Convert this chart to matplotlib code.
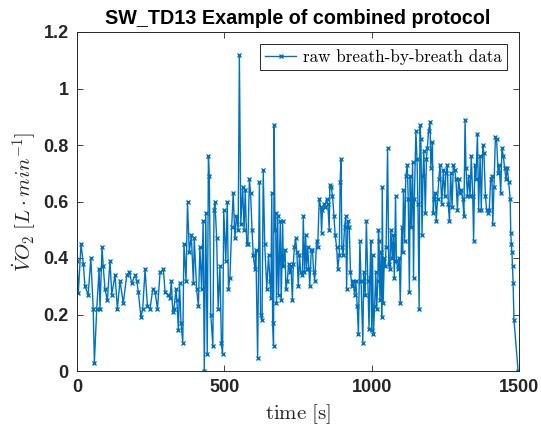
import matplotlib
matplotlib.use("Agg")
import matplotlib.pyplot as plt

time_s = [0, 4.5, 13.6, 21.5, 27, 38, 47, 55, 59, 67, 75, 78, 85, 89, 95, 103, 112, 118, 129, 137,
          146, 157, 169, 178, 186, 197, 203, 208, 217, 223, 231, 239, 248, 257, 265, 273, 282, 293, 299, 310,
          316, 320, 325, 329, 336, 339, 344, 348, 353, 359, 363, 370, 375, 381, 388, 395, 398, 406, 412, 417,
          423, 428, 432, 437, 442, 446, 449, 454, 461, 465, 468, 474, 479, 485, 490, 494, 498, 505, 510, 514,
          519, 525, 530, 536, 541, 547, 551, 556, 562, 567, 571, 576, 580, 585, 589, 594, 598, 604, 607, 613,
          619, 623, 628, 632, 637, 644, 650, 655, 658, 661, 664, 667, 669, 672, 674, 677, 681, 684, 690, 693,
          698, 700, 706, 709, 714, 718, 723, 726, 731, 734, 738, 742, 746, 751, 755, 759, 765, 768, 772, 776,
          779, 783, 787, 790, 795, 799, 803, 807, 813, 817, 822, 827, 830, 833, 838, 842, 847, 851, 856, 858,
          863, 867, 872, 876, 881, 885, 890, 893, 896, 899, 903, 908, 912, 915, 919, 924, 928, 933, 937, 942,
          946, 951, 955, 960, 964, 970, 973, 978, 982, 987, 991, 994, 997, 1000, 1003, 1006, 1010, 1014, 1017, 1021,
          1023, 1025, 1028, 1032, 1034, 1036, 1039, 1043, 1046, 1049, 1054, 1058, 1062, 1065, 1070, 1073, 1077, 1081, 1084, 1089,
          1094, 1097, 1102, 1105, 1108, 1112, 1116, 1121, 1124, 1128, 1131, 1134, 1139, 1142, 1145, 1150, 1154, 1157, 1161, 1164,
          1167, 1171, 1174, 1177, 1182, 1186, 1189, 1193, 1198, 1201, 1206, 1209, 1212, 1216, 1219, 1224, 1228, 1232, 1238, 1243,
          1248, 1252, 1257, 1260, 1264, 1268, 1273, 1277, 1282, 1286, 1291, 1295, 1300, 1304, 1309, 1313, 1317, 1320, 1325, 1329,
          1334, 1338, 1343, 1346, 1350, 1354, 1359, 1363, 1368, 1372, 1377, 1381, 1386, 1390, 1395, 1399, 1404, 1408, 1411, 1415,
          1420, 1424, 1429, 1433, 1438, 1442, 1447, 1451, 1456, 1460, 1465, 1470, 1472, 1474, 1476, 1478, 1480, 1483, 1497]

vo2 = [0.39, 0.275, 0.45, 0.38, 0.30, 0.27, 0.40, 0.22, 0.03, 0.22, 0.36, 0.22, 0.44, 0.37, 0.29, 0.25, 0.39, 0.27, 0.34, 0.22,
       0.32, 0.24, 0.34, 0.35, 0.31, 0.34, 0.32, 0.28, 0.19, 0.22, 0.36, 0.23, 0.22, 0.29, 0.28, 0.22, 0.35, 0.36, 0.28, 0.27,
       0.26, 0.32, 0.21, 0.22, 0.29, 0.25, 0.145, 0.31, 0.17, 0.10, 0.45, 0.32, 0.60, 0.42, 0.48, 0.31, 0.47, 0.29, 0.23, 0.44,
       0.29, 0.53, 0.0, 0.56, 0.06, 0.76, 0.69, 0.20, 0.09, 0.57, 0.60, 0.47, 0.22, 0.37, 0.10, 0.06, 0.57, 0.39, 0.60, 0.29,
       0.33, 0.51, 0.63, 0.47, 0.55, 0.50, 1.12, 0.52, 0.65, 0.50, 0.64, 0.45, 0.45, 0.68, 0.63, 0.50, 0.41, 0.36, 0.43, 0.045,
       0.67, 0.20, 0.18, 0.71, 0.45, 0.29, 0.41, 0.32, 0.26, 0.63, 0.17, 0.09, 0.87, 0.50, 0.56, 0.24, 0.55, 0.27, 0.53, 0.25,
       0.53, 0.37, 0.43, 0.29, 0.32, 0.38, 0.35, 0.37, 0.25, 0.38, 0.44, 0.47, 0.42, 0.30, 0.41, 0.35, 0.34, 0.55, 0.35, 0.48,
       0.36, 0.44, 0.36, 0.30, 0.43, 0.43, 0.35, 0.32, 0.46, 0.44, 0.61, 0.58, 0.49, 0.57, 0.59, 0.58, 0.61, 0.59, 0.50, 0.66,
       0.65, 0.62, 0.55, 0.48, 0.44, 0.36, 0.41, 0.67, 0.75, 0.44, 0.41, 0.51, 0.55, 0.29, 0.53, 0.51, 0.35, 0.30, 0.32, 0.27,
       0.32, 0.23, 0.13, 0.46, 0.32, 0.10, 0.35, 0.27, 0.53, 0.32, 0.15, 0.33, 0.46, 0.146, 0.41, 0.13, 0.23, 0.35, 0.22, 0.32,
       0.50, 0.46, 0.25, 0.42, 0.19, 0.65, 0.24, 0.40, 0.37, 0.44, 0.79, 0.38, 0.36, 0.50, 0.40, 0.48, 0.33, 0.62, 0.39, 0.36,
       0.40, 0.24, 0.51, 0.42, 0.64, 0.46, 0.69, 0.73, 0.61, 0.28, 0.69, 0.51, 0.74, 0.33, 0.61, 0.85, 0.75, 0.59, 0.22, 0.87,
       0.82, 0.48, 0.69, 0.78, 0.56, 0.75, 0.79, 0.85, 0.88, 0.72, 0.81, 0.56, 0.61, 0.63, 0.53, 0.61, 0.68, 0.73, 0.59, 0.71,
       0.62, 0.70, 0.73, 0.59, 0.53, 0.70, 0.58, 0.73, 0.71, 0.68, 0.57, 0.68, 0.63, 0.64, 0.61, 0.55, 0.89, 0.72, 0.62, 0.69,
       0.62, 0.76, 0.62, 0.46, 0.73, 0.68, 0.84, 0.57, 0.76, 0.57, 0.80, 0.77, 0.62, 0.57, 0.56, 0.57, 0.68, 0.69, 0.52, 0.65,
       0.83, 0.82, 0.70, 0.73, 0.63, 0.79, 0.76, 0.72, 0.68, 0.72, 0.67, 0.61, 0.49, 0.45, 0.42, 0.37, 0.31, 0.18, 0.0]

x_ticks = [0, 500, 1000, 1500]
y_ticks = [0, 0.2, 0.4, 0.6, 0.8, 1.0, 1.2]
y_tick_labels = ["0", "0.2", "0.4", "0.6", "0.8", "1", "1.2"]

plt.rcParams["mathtext.fontset"] = "cm"

fig = plt.figure(figsize=(5.41, 4.30), dpi=100)
ax = fig.add_axes([77 / 541, 59 / 430, 442 / 541, 339 / 430])

blue = (0, 0.447, 0.741)
ax.plot(time_s, vo2, color=blue, linewidth=1.0, marker="x", markersize=3.5,
        markeredgewidth=1.0, label="raw breath-by-breath data")

ax.set_xlim(0, 1500)
ax.set_ylim(0, 1.2)
ax.set_xticks(x_ticks)
ax.set_yticks(y_ticks)
ax.set_yticklabels(y_tick_labels)

dark = (0.15, 0.15, 0.15)
for lab in ax.get_xticklabels() + ax.get_yticklabels():
    lab.set_fontfamily("Liberation Sans")
    lab.set_fontweight("bold")
    lab.set_fontsize(13)
    lab.set_color(dark)
ax.tick_params(direction="in", top=True, right=True, length=4, width=0.6,
               colors=dark, labelcolor=dark, pad=6)
for sp in ax.spines.values():
    sp.set_color(dark)
    sp.set_linewidth(0.7)

ax.set_title("SW_TD13 Example of combined protocol", fontfamily="Liberation Sans",
             fontweight="bold", fontsize=14.2, color="black", pad=6)
ax.set_xlabel(r"$\mathrm{time\ [s]}$", fontsize=15, color=dark, labelpad=4)
ax.set_ylabel(r"$\dot{V}O_2\ [L\cdot min^{-1}]$", fontsize=15, color=dark, labelpad=4)

leg = ax.legend(loc="upper right", prop={"family": "cmr10", "size": 12.3},
                fancybox=False, framealpha=1, edgecolor=dark, borderpad=0.3,
                handlelength=1.8, handletextpad=0.4, borderaxespad=0.7)
leg.get_frame().set_linewidth(0.7)

fig.savefig("out.png", dpi=100)
